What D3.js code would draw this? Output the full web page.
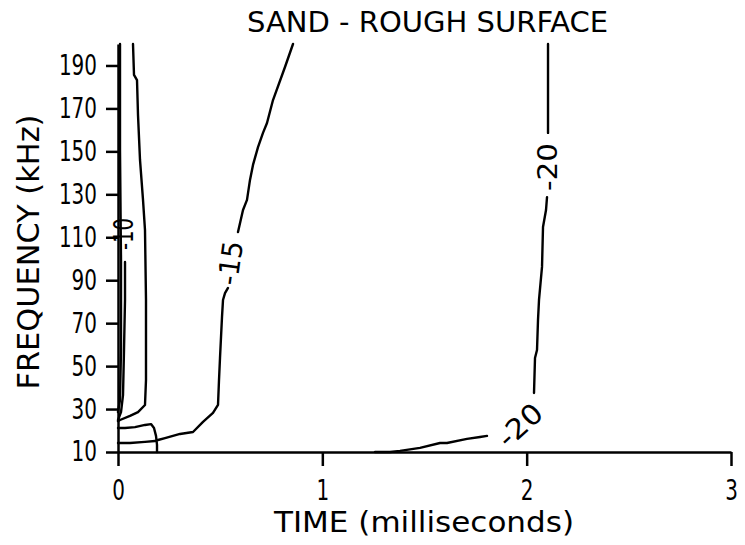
<!DOCTYPE html>
<html><head><meta charset="utf-8">
<script src="https://cdn.jsdelivr.net/npm/d3@7"></script>
<style>
body{margin:0;background:#fff}
svg{display:block;background:#fff}
text{font-family:"Liberation Sans Narrow","DejaVu Sans Condensed","Liberation Sans",sans-serif;fill:#000}
</style>
</head><body>
<svg id="chart" width="745" height="545"></svg>
<script>
// ---------- data ----------
const chartTitle = "SAND - ROUGH SURFACE";
const xTitle = "TIME (milliseconds)";
const yTitle = "FREQUENCY (kHz)";
const xTickValues = [0, 1, 2, 3];
const yTickValues = [10, 30, 50, 70, 90, 110, 130, 150, 170, 190];
const xDomain = [0, 3];
const yDomain = [10, 200];

// contour lines: [time (ms), frequency (kHz)]
const contourA = [[0.0098,200],[0.0098,150.6],[0.0147,99.4],[0.0147,57.5],[0.0098,34.2],[0,28.6]];
const contourA2 = [[0,24.9],[0.0147,28.6],[0.0245,36.5],[0.0294,57.5],[0.0343,80.8],[0.0343,98.5]];
const contourB = [[0.0734,200],[0.0783,185.6],[0.0930,183.2],[0.0979,166.9],[0.1077,146.0],[0.1224,127.4],
  [0.1321,113.4],[0.1370,80.8],[0.1370,43.5],[0.1321,31.9],[0.0979,28.6],[0.0587,26.8],[0.0098,24.9],[0,24.4]];
const contourC = [[0,21.2],[0.0343,21.2],[0.0832,21.6],[0.1321,22.6],[0.1615,23.0],[0.1762,21.2],
  [0.1860,17.5],[0.1909,13.3],[0.1909,10]];
const contour15Low = [[0,14.2],[0.0587,14.2],[0.1321,14.7],[0.1811,15.1],[0.1958,15.6],[0.2300,16.5],
  [0.3034,18.4],[0.3671,19.3],[0.4160,24.0],[0.4649,28.2],[0.4894,31.9],[0.4943,43.5],[0.4992,53.8],
  [0.5090,72.9],[0.5139,80.8],[0.5237,84.0],[0.5384,86.4]];
const contour15High = [[0.5873,112.4],[0.6118,122.7],[0.6313,127.4],[0.6460,136.7],[0.6607,143.7],
  [0.6852,152.0],[0.7096,158.6],[0.7292,163.2],[0.7586,173.9],[0.8173,189.3],[0.8565,200]];
const contour20Low = [[1.2578,10],[1.3312,10],[1.3801,10.5],[1.4780,11.9],[1.5759,14.2],[1.6101,14.2],
  [1.7080,16.1],[1.7717,17.0],[1.8059,17.5]];
const contour20Mid = [[2.0359,37.5],[2.0408,53.8],[2.0506,57.5],[2.0555,71.5],[2.0604,80.8],[2.0751,96.2],
  [2.0800,114.8],[2.0947,122.7],[2.0996,128.7]];
const contour20High = [[2.1045,158.6],[2.1045,200]];

const contourLabels = ["-10", "-15", "-20", "-20"];
const labelTimes = [0.0294, 0.548, 1.967, 2.1045];
const labelFreqs = [111.5, 98.0, 22.6, 142.7];

// ---------- layout ----------
const labelAngles = [-90, -82, -42, -90];
const labelLengths = [32, 44, 50, 48];
const labelSizes = [26, 28, 28, 26];

const svg = d3.select("#chart");
const x = d3.scaleLinear().domain(xDomain).range([118, 731]);
const y = d3.scaleLinear().domain(yDomain).range([452, 44]);

const font = '"Liberation Sans Narrow","DejaVu Sans Condensed","Liberation Sans",sans-serif';

// axes
const gx = svg.append("g").attr("transform", "translate(0,452)")
  .call(d3.axisBottom(x).tickValues(xTickValues).tickFormat(d3.format("d"))
    .tickSize(14).tickSizeOuter(0).tickPadding(14));
const gy = svg.append("g").attr("transform", "translate(118,0)")
  .call(d3.axisLeft(y).tickValues(yTickValues).tickFormat(d3.format("d"))
    .tickSize(12).tickSizeOuter(0).tickPadding(9));
[gx, gy].forEach(g => {
  g.attr("font-family", font).attr("font-size", 28);
  g.selectAll("path.domain").attr("stroke", "#000").attr("stroke-width", 2.5);
  g.selectAll(".tick line").attr("stroke", "#000").attr("stroke-width", 2.5);
  g.selectAll(".tick text").attr("fill", "#000")
    .attr("textLength", function(){ return this.textContent.length * 12.7; })
    .attr("lengthAdjust", "spacingAndGlyphs");
});

// contours
const line = d3.line().x(d => x(d[0])).y(d => y(d[1]));
const contours = [contourA, contourA2, contourB, contourC, contour15Low, contour15High,
  contour20Low, contour20Mid, contour20High];
svg.append("g").selectAll("path").data(contours).join("path")
  .attr("d", line).attr("fill", "none").attr("stroke", "#000")
  .attr("stroke-width", 2.4).attr("stroke-linejoin", "round").attr("stroke-linecap", "round");

// contour labels
svg.append("g").selectAll("text").data(contourLabels).join("text")
  .attr("transform", (d, i) => `translate(${x(labelTimes[i])},${y(labelFreqs[i])}) rotate(${labelAngles[i]})`)
  .attr("text-anchor", "middle").attr("dy", "0.36em")
  .attr("font-size", (d, i) => labelSizes[i])
  .attr("textLength", (d, i) => labelLengths[i]).attr("lengthAdjust", "spacingAndGlyphs")
  .text(d => d);

// titles
svg.append("text").attr("x", 427.5).attr("y", 32).attr("text-anchor", "middle")
  .attr("font-size", 29).attr("textLength", 361).attr("lengthAdjust", "spacingAndGlyphs")
  .text(chartTitle);
svg.append("text").attr("x", 424).attr("y", 532).attr("text-anchor", "middle")
  .attr("font-size", 29).attr("textLength", 300).attr("lengthAdjust", "spacingAndGlyphs")
  .text(xTitle);
svg.append("text").attr("transform", "translate(39,252) rotate(-90)").attr("text-anchor", "middle")
  .attr("font-size", 31).attr("textLength", 275).attr("lengthAdjust", "spacingAndGlyphs")
  .text(yTitle);
</script>
</body></html>
